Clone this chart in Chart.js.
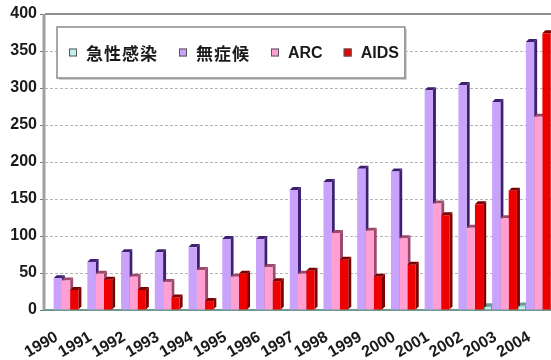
<!DOCTYPE html>
<html>
<head>
<meta charset="utf-8">
<script src="https://cdn.jsdelivr.net/npm/chart.js@4/dist/chart.umd.min.js"></script>
<style>
  html, body { margin: 0; padding: 0; background: #fff; }
  #wrap { width: 551px; height: 360px; }
</style>
</head>
<body>
<div id="wrap"><canvas id="c" width="551" height="360"></canvas></div>
<script>
// Reported cases per year, by stage
const years = ['1990','1991','1992','1993','1994','1995','1996','1997','1998','1999','2000','2001','2002','2003','2004'];
const seriesNames = ['急性感染', '無症候', 'ARC', 'AIDS'];
const acute = [0, 0, 0, 0, 0, 0, 0, 0, 0, 0, 0, 0, 1, 5, 6];
const asymptomatic = [43, 65, 78, 78, 85, 96, 96, 162, 173, 191, 187, 297, 304, 281, 362];
const arc = [40, 49, 45, 38, 54, 45, 58, 49, 104, 107, 97, 144, 111, 124, 261];
const aids = [27, 41, 27, 17, 12, 49, 39, 53, 68, 45, 61, 128, 143, 161, 374];
const yTicks = [0, 50, 100, 150, 200, 250, 300, 350, 400];

const latinFont = '"Liberation Sans", Arial, sans-serif';
const cjkFont = '"Noto Sans CJK JP", "Noto Sans CJK SC", sans-serif';

// front face / darker side face colours for each series
const styles = [
  { front: '#bdf2ea', side: '#5f9c94', edge: '#4d8078' },
  { front: '#c9a2fb', side: '#3d2170', edge: '#3d2170' },
  { front: '#ff9fd2', side: '#9b4a6c', edge: '#9b4a6c' },
  { front: '#ee0000', side: '#7c0000', edge: '#7c0000' }
];

// Side and top faces give the bars a shallow 3D look.
// They are all painted before any front face, so a neighbouring bar's
// front hides the part of the side face that sits behind it.
const depthFaces = {
  id: 'depthFaces',
  beforeDatasetsDraw(chart) {
    const ctx = chart.ctx;
    const dx = 3, dy = 3;
    ctx.save();
    chart.data.datasets.forEach((ds, i) => {
      const meta = chart.getDatasetMeta(i);
      meta.data.forEach(bar => {
        const p = bar.getProps(['x', 'y', 'base', 'width'], true);
        if (p.base - p.y < 0.5) return;
        const l = p.x - p.width / 2, r = p.x + p.width / 2;
        ctx.fillStyle = styles[i].side;
        ctx.beginPath();
        ctx.moveTo(r, p.y);
        ctx.lineTo(r + dx, p.y - dy);
        ctx.lineTo(r + dx, p.base - dy);
        ctx.lineTo(r, p.base);
        ctx.closePath();
        ctx.fill();
        ctx.beginPath();
        ctx.moveTo(l, p.y);
        ctx.lineTo(l + dx, p.y - dy);
        ctx.lineTo(r + dx, p.y - dy);
        ctx.lineTo(r, p.y);
        ctx.closePath();
        ctx.fill();
      });
    });
    ctx.restore();
  }
};

// Frame lines: top edge of the plot area and the solid value-axis wall
const frame = {
  id: 'frame',
  beforeDatasetsDraw(chart) {
    const { ctx, chartArea } = chart;
    ctx.save();
    ctx.strokeStyle = '#8f8f8f';
    ctx.lineWidth = 2;
    ctx.beginPath();
    ctx.moveTo(chartArea.left, chartArea.top);
    ctx.lineTo(chartArea.right, chartArea.top);
    ctx.stroke();
    ctx.strokeStyle = '#a0a0a0';
    ctx.lineWidth = 3;
    ctx.beginPath();
    ctx.moveTo(chartArea.left - 1, chartArea.top);
    ctx.lineTo(chartArea.left - 1, chartArea.bottom);
    ctx.stroke();
    ctx.restore();
  }
};

// Slanted year labels, placed at each category tick of the x scale
const slantedYears = {
  id: 'slantedYears',
  afterDraw(chart) {
    const { ctx } = chart;
    const xs = chart.scales.x;
    const y = xs.top + 19;
    ctx.save();
    ctx.font = 'bold 16px ' + latinFont;
    ctx.fillStyle = '#1a1a1a';
    ctx.textAlign = 'right';
    ctx.textBaseline = 'top';
    xs.ticks.forEach((t, i) => {
      const x = xs.getPixelForTick(i) - 9;
      ctx.save();
      ctx.translate(x, y);
      ctx.rotate(-30 * Math.PI / 180);
      ctx.fillText(chart.data.labels[i], 0, 0);
      ctx.restore();
    });
    ctx.restore();
  }
};

// Boxed legend drawn inside the plot area
const boxedLegend = {
  id: 'boxedLegend',
  afterDraw(chart) {
    const { ctx, chartArea } = chart;
    const isCjk = s => /[\u3000-\u9fff]/.test(s);
    const fontFor = s => isCjk(s) ? 'bold 17px ' + cjkFont : 'bold 16px ' + latinFont;
    const spacingFor = s => isCjk(s) ? '1px' : '0px';
    const sq = 8, sqGap = 9, itemGap = 21, padL = 12, padR = 6;
    ctx.save();
    const widths = chart.data.datasets.map(ds => {
      ctx.font = fontFor(ds.label);
      ctx.letterSpacing = spacingFor(ds.label);
      return ctx.measureText(ds.label).width;
    });
    let w = padL + padR;
    widths.forEach((tw, i) => { w += sq + sqGap + tw + (i < widths.length - 1 ? itemGap : 0); });
    const bx = chartArea.left + 12, by = chartArea.top + 13, bh = 51;
    // shadow and box
    ctx.fillStyle = '#cfcfcf';
    ctx.fillRect(bx + 2, by + 2, w, bh);
    ctx.fillStyle = '#ffffff';
    ctx.fillRect(bx, by, w, bh);
    ctx.strokeStyle = '#8a8a8a';
    ctx.lineWidth = 1.5;
    ctx.strokeRect(bx, by, w, bh);
    let x = bx + padL;
    const cy = by + bh / 2;
    chart.data.datasets.forEach((ds, i) => {
      ctx.fillStyle = styles[i].front;
      ctx.fillRect(x, cy - sq / 2, sq, sq);
      ctx.strokeStyle = '#555';
      ctx.lineWidth = 1;
      ctx.strokeRect(x + 0.5, cy - sq / 2 + 0.5, sq - 1, sq - 1);
      x += sq + sqGap;
      ctx.font = fontFor(ds.label);
      ctx.letterSpacing = spacingFor(ds.label);
      ctx.fillStyle = '#1a1a1a';
      ctx.textBaseline = 'middle';
      ctx.textAlign = 'left';
      ctx.fillText(ds.label, x, cy + 1);
      x += widths[i] + itemGap;
    });
    ctx.restore();
  }
};

const seriesValues = [acute, asymptomatic, arc, aids];

new Chart(document.getElementById('c'), {
  type: 'bar',
  data: {
    labels: years,
    datasets: seriesNames.map((name, i) => ({
      label: name,
      data: seriesValues[i],
      backgroundColor: styles[i].front,
      borderColor: styles[i].edge,
      borderWidth: i === 0 ? 1 : 0,
      categoryPercentage: 0.98,
      barPercentage: 1.0
    }))
  },
  options: {
    responsive: false,
    animation: false,
    layout: { padding: { top: 14, right: 0, left: 0, bottom: 0 } },
    plugins: {
      legend: { display: false },
      tooltip: { enabled: false }
    },
    scales: {
      x: {
        grid: { display: false, drawTicks: false },
        border: { display: true, color: '#6f9890', width: 2 },
        ticks: { display: false, autoSkip: false },
        afterFit(scale) { scale.height = 50; }
      },
      y: {
        min: 0,
        max: 400,
        afterBuildTicks(scale) { scale.ticks = yTicks.map(v => ({ value: v })); },
        grid: {
          color: '#b5b5b5',
          lineWidth: 1,
          tickLength: 5,
          tickColor: '#777'
        },
        border: { display: false, dash: [3, 2] },
        ticks: {
          padding: 3,
          color: '#1a1a1a',
          font: { family: latinFont, size: 16, weight: 'bold' }
        },
        afterFit(scale) { scale.width = 45; }
      }
    }
  },
  plugins: [frame, depthFaces, slantedYears, boxedLegend]
});
</script>
</body>
</html>
